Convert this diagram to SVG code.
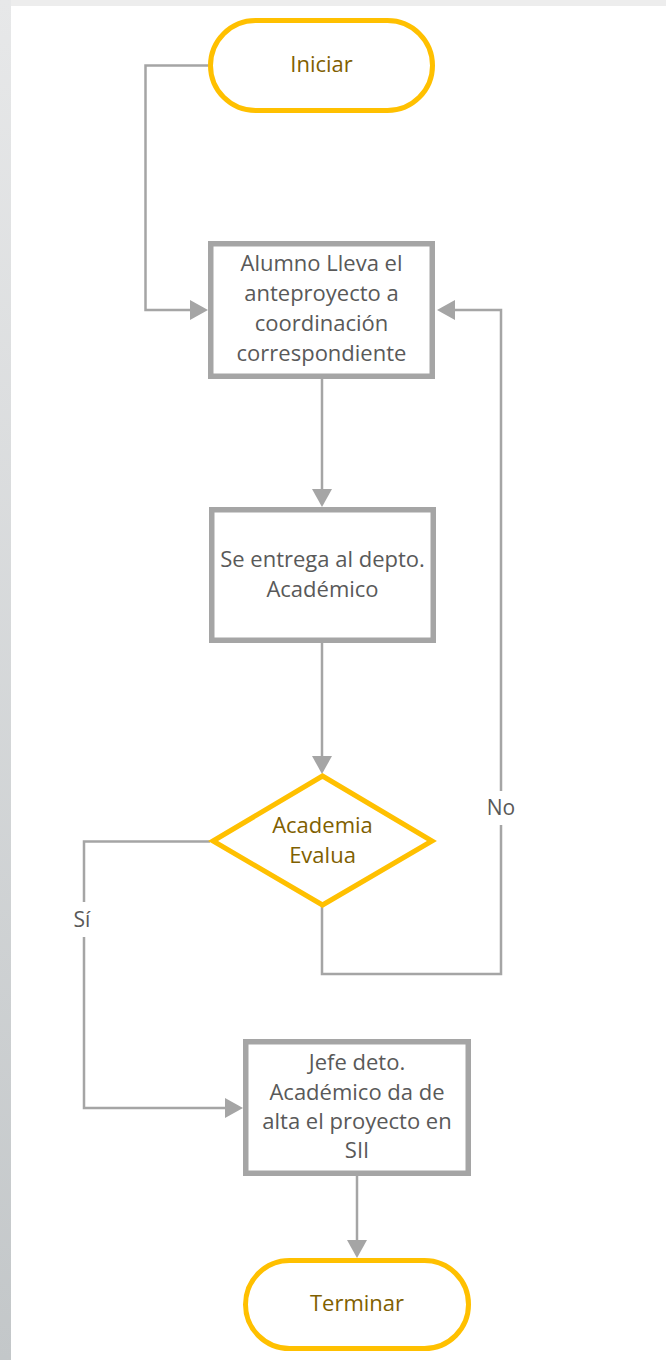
<svg xmlns="http://www.w3.org/2000/svg" width="666" height="1360" viewBox="0 0 666 1360">
<defs>
<linearGradient id="lg" x1="0" y1="0" x2="0" y2="1">
<stop offset="0" stop-color="#e7e8e9"/>
<stop offset="1" stop-color="#c3c7c9"/>
</linearGradient>
<marker id="ah" markerWidth="19" markerHeight="20" refX="0" refY="10" orient="auto" markerUnits="userSpaceOnUse">
<path d="M0,0 L18,10 L0,20 Z" fill="#A5A5A5"/>
</marker>
<style>
.term{fill:#fff;stroke:#FFC000;stroke-width:5}
.proc{fill:#fff;stroke:#A5A5A5;stroke-width:5.5}
.dec{fill:#fff;stroke:#FFC000;stroke-width:5;stroke-linejoin:miter}
.gold{font-family:"Open Sans","Liberation Sans",sans-serif;font-size:22px;fill:#7F6000;text-anchor:middle}
.gray{font-family:"Open Sans","Liberation Sans",sans-serif;font-size:22px;fill:#595959;text-anchor:middle}
.lbl{font-family:"Open Sans","Liberation Sans",sans-serif;font-size:21px;fill:#595959;text-anchor:middle}
.con{fill:none;stroke:#A5A5A5;stroke-width:2.5}
</style>
</defs>
<rect x="0" y="0" width="666" height="1360" fill="#ffffff"/>
<rect x="0" y="0" width="666" height="6" fill="#ededed"/>
<rect x="0" y="0" width="11" height="1360" fill="url(#lg)"/>

<g id="connectors">
<path class="con" d="M208,65.5 H145.5 V310 H190" marker-end="url(#ah)"/>
<path class="con" d="M322,379 V489" marker-end="url(#ah)"/>
<path class="con" d="M322,643 V756" marker-end="url(#ah)"/>
<path class="con" d="M210,841.5 H84 V1108 H225" marker-end="url(#ah)"/>
<path class="con" d="M322,906 V974 H501 V310 H455" marker-end="url(#ah)"/>
<path class="con" d="M357,1176 V1240" marker-end="url(#ah)"/>
<rect x="70" y="902" width="28" height="35" fill="#fff"/>
<text class="lbl" x="82" y="927">Sí</text>
<rect x="486" y="791" width="30" height="34" fill="#fff"/>
<text class="lbl" x="501" y="815">No</text>
</g>

<g id="iniciar">
<rect class="term" x="210.5" y="20.5" width="222" height="90" rx="45" ry="45"/>
<text class="gold" x="321.5" y="72">Iniciar</text>
</g>

<g id="alumno">
<rect class="proc" x="210.75" y="243.75" width="221.5" height="132.5"/>
<text class="gray" x="321.5" y="271">Alumno Lleva el</text>
<text class="gray" x="321.5" y="301">anteproyecto a</text>
<text class="gray" x="321.5" y="331">coordinación</text>
<text class="gray" x="321.5" y="361">correspondiente</text>
</g>

<g id="entrega">
<rect class="proc" x="211.75" y="509.75" width="221.5" height="130.5"/>
<text class="gray" x="322.5" y="567">Se entrega al depto.</text>
<text class="gray" x="322.5" y="597">Académico</text>
</g>

<g id="academia">
<polygon class="dec" points="213,841 322.5,776 432,841 322.5,905"/>
<text class="gold" x="322.5" y="833">Academia</text>
<text class="gold" x="322.5" y="863">Evalua</text>
</g>

<g id="jefe">
<rect class="proc" x="245.75" y="1041.75" width="222.5" height="131.5"/>
<text class="gray" x="357" y="1070">Jefe deto.</text>
<text class="gray" x="357" y="1100">Académico da de</text>
<text class="gray" x="357" y="1129">alta el proyecto en</text>
<text class="gray" x="357" y="1158">SII</text>
</g>

<g id="terminar">
<rect class="term" x="245.5" y="1260.5" width="223" height="88" rx="44" ry="44"/>
<text class="gold" x="357" y="1311">Terminar</text>
</g>
</svg>
